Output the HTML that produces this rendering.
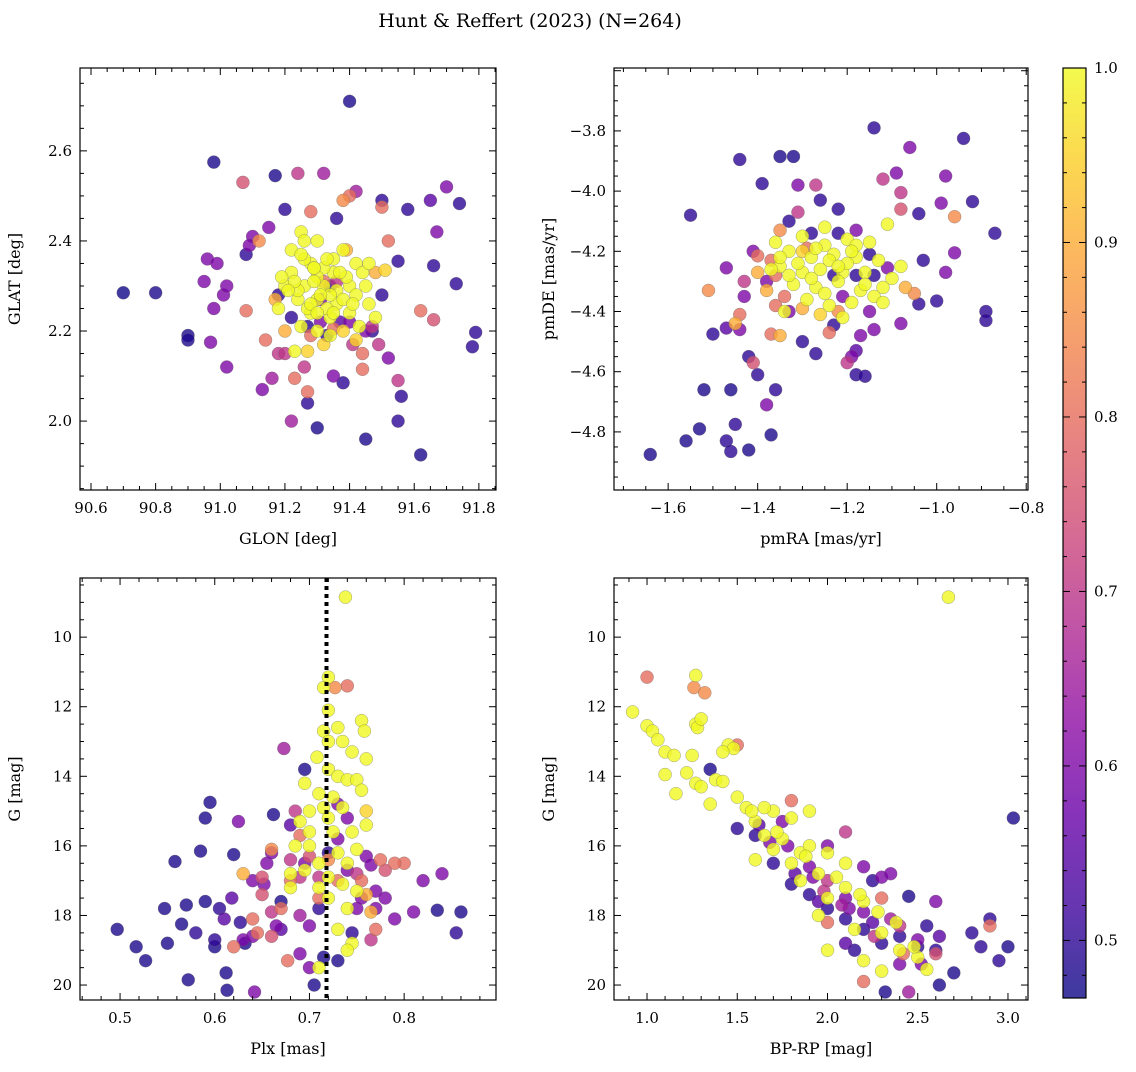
<!DOCTYPE html>
<html><head><meta charset="utf-8"><style>
body{margin:0;background:#fff;}
svg text{font-family:"DejaVu Serif","Liberation Serif",serif;fill:#000;}
</style></head><body>
<svg id="fig" width="1136" height="1067" xmlns="http://www.w3.org/2000/svg">
<defs><linearGradient id="cbg" x1="0" y1="1" x2="0" y2="0"></linearGradient></defs>
<text x="530" y="27" font-size="19" text-anchor="middle">Hunt &amp; Reffert (2023) (N=264)</text>
</svg>
<script>
// ---- data (x, y, membership probability) ----
const p1x=[90.70,90.80,90.90,90.90,90.98,91.17,91.40,91.20,91.30,91.45,91.62,91.55,91.56,91.78,91.79,91.74,91.70,91.65,91.67,91.66,91.73,91.58,91.50,91.55,91.50,91.47,91.38,91.35,91.42,91.40,91.32,91.24,91.07,91.10,91.09,91.08,90.96,90.99,91.01,91.02,90.95,90.98,90.97,91.02,91.13,91.16,91.18,91.20,91.22,91.27,91.27,91.26,91.23,91.08,91.14,91.17,91.12,91.28,91.38,91.50,91.52,91.51,91.62,91.66,91.44,91.44,91.55,91.52,91.49,91.47,91.25,91.30,91.38,91.42,91.35,91.28,91.22,91.20,91.26,91.32,91.40,91.45,91.30,91.36,91.24,91.28,91.34,91.40,91.46,91.48,91.30,91.25,91.38,91.42,91.32,91.27,91.23,91.35,91.44,91.22,91.26,91.32,91.36,91.30,91.38,91.33,91.42,91.18,91.20,91.46,91.48,91.36,91.31,91.33,91.37,91.40,91.24,91.29,91.34,91.39,91.27,91.31,91.35,91.29,91.33,91.26,91.41,91.37,91.23,91.43,91.21,91.28,91.34,91.30,91.25,91.39,91.19,91.36,91.32,91.27,91.15,91.34,91.41,91.28,91.22,91.31,91.18,91.35,91.45,91.29];
const p1y=[2.285,2.285,2.19,2.18,2.575,2.545,2.71,2.47,1.985,1.96,1.925,2.0,2.055,2.165,2.197,2.483,2.52,2.49,2.42,2.345,2.305,2.47,2.49,2.355,2.28,2.20,2.085,2.10,2.51,2.50,2.55,2.55,2.53,2.41,2.39,2.37,2.36,2.35,2.28,2.30,2.31,2.25,2.175,2.12,2.07,2.095,2.15,2.15,2.00,2.04,2.065,2.12,2.095,2.245,2.18,2.27,2.40,2.465,2.49,2.475,2.40,2.335,2.245,2.225,2.15,2.115,2.09,2.14,2.17,2.21,2.42,2.40,2.38,2.35,2.33,2.35,2.33,2.30,2.30,2.30,2.30,2.30,2.27,2.26,2.27,2.24,2.23,2.24,2.26,2.23,2.20,2.21,2.20,2.18,2.17,2.155,2.155,2.36,2.33,2.38,2.40,2.34,2.29,2.32,2.27,2.25,2.28,2.25,2.20,2.35,2.33,2.31,2.22,2.19,2.22,2.22,2.29,2.31,2.28,2.32,2.25,2.28,2.24,2.34,2.36,2.36,2.26,2.33,2.31,2.21,2.29,2.26,2.19,2.24,2.37,2.38,2.32,2.45,2.31,2.21,2.43,2.30,2.17,2.19,2.23,2.27,2.28,2.205,2.20,2.34,2.29];
const p1p=[.47,.48,.48,.48,.48,.48,.48,.5,.48,.48,.48,.5,.5,.5,.5,.5,.6,.55,.6,.5,.5,.5,.5,.5,.5,.5,.5,.6,.65,.8,.65,.7,.75,.6,.6,.5,.6,.6,.6,.6,.6,.6,.6,.6,.6,.65,.7,.7,.65,.5,.8,.7,.8,.8,.8,.9,.85,.8,.85,.8,.8,.95,.8,.75,.8,.8,.7,.6,.7,.7,1,1,1,1,1,1,1,1,1,1,1,1,1,1,1,1,1,1,1,1,1,1,.95,.95,.95,.95,1,1,1,1,1,1,1,1,1,1,1,1,.9,1,.9,.7,.6,.5,.55,.6,1,1,1,1,1,1,1,1,1,1,1,1,1,1,1,1,1,1,1,.9,1,.5,.8,.5,.6,.5,.7,.8,.5,.6,.5,.8,.6,1];

const p2x=[-1.64,-1.56,-1.53,-1.52,-1.47,-1.46,-1.45,-1.46,-1.42,-1.37,-1.36,-1.38,-1.40,-1.41,-1.42,-1.50,-1.47,-1.44,-1.44,-1.55,-1.44,-1.35,-1.32,-1.39,-1.31,-1.27,-1.26,-1.22,-1.14,-0.94,-1.06,-1.09,-0.98,-1.08,-0.99,-0.92,-0.87,-0.96,-1.04,-1.08,-0.96,-0.98,-1.03,-0.89,-0.89,-1.00,-1.04,-1.08,-1.14,-1.15,-1.17,-1.18,-1.19,-1.18,-1.16,-1.20,-1.23,-1.30,-1.27,-1.33,-1.36,-1.37,-1.35,-1.30,-1.34,-1.45,-1.43,-1.43,-1.47,-1.41,-1.40,-1.38,-1.36,-1.37,-1.35,-1.33,-1.31,-1.28,-1.22,-1.18,-1.51,-1.24,-1.22,-1.07,-1.05,-1.12,-1.11,-1.14,-1.18,-1.30,-1.25,-1.20,-1.15,-1.11,-1.33,-1.28,-1.23,-1.18,-1.13,-1.35,-1.30,-1.26,-1.21,-1.16,-1.32,-1.27,-1.22,-1.17,-1.12,-1.29,-1.24,-1.19,-1.14,-1.26,-1.21,-1.34,-1.37,-1.36,-1.25,-1.18,-1.08,-1.10,-1.12,-1.20,-1.28,-1.24,-1.30,-1.38,-1.40,-1.31,-1.27,-1.22,-1.16,-1.33,-1.19,-1.25,-1.15,-1.29,-1.21,-1.35,-1.23];
const p2y=[-4.875,-4.83,-4.79,-4.66,-4.83,-4.865,-4.775,-4.66,-4.86,-4.81,-4.66,-4.71,-4.61,-4.57,-4.55,-4.475,-4.455,-4.46,-4.41,-4.08,-3.895,-3.885,-3.885,-3.975,-3.98,-3.98,-4.03,-4.06,-3.79,-3.825,-3.855,-3.94,-3.95,-4.005,-4.04,-4.035,-4.14,-4.205,-4.075,-4.06,-4.085,-4.27,-4.23,-4.40,-4.43,-4.365,-4.375,-4.44,-4.46,-4.40,-4.48,-4.53,-4.55,-4.61,-4.615,-4.57,-4.445,-4.50,-4.54,-4.40,-4.38,-4.475,-4.48,-4.39,-4.35,-4.44,-4.30,-4.35,-4.255,-4.20,-4.215,-4.30,-4.28,-4.23,-4.13,-4.10,-4.07,-4.14,-4.14,-4.13,-4.33,-4.47,-4.40,-4.32,-4.34,-3.96,-4.255,-4.28,-4.28,-4.15,-4.18,-4.16,-4.17,-4.11,-4.20,-4.22,-4.21,-4.22,-4.23,-4.25,-4.27,-4.26,-4.27,-4.27,-4.31,-4.32,-4.30,-4.33,-4.32,-4.36,-4.38,-4.37,-4.35,-4.41,-4.42,-4.40,-4.26,-4.17,-4.12,-4.18,-4.25,-4.29,-4.37,-4.24,-4.29,-4.23,-4.20,-4.33,-4.27,-4.24,-4.19,-4.25,-4.31,-4.28,-4.20,-4.34,-4.21,-4.19,-4.35,-4.22,-4.28];
const p2p=[.48,.48,.48,.48,.5,.5,.5,.48,.48,.48,.5,.6,.5,.75,.5,.5,.55,.6,.8,.5,.5,.48,.48,.5,.6,.7,.5,.5,.5,.5,.6,.6,.6,.7,.6,.5,.5,.6,.5,.75,.85,.6,.5,.5,.5,.5,.5,.6,.6,.6,.6,.55,.6,.5,.5,.7,.5,.5,.5,.6,.8,.8,.9,.9,.8,.9,.7,.6,.6,.6,.8,.6,.8,.8,.85,.5,.7,.5,.5,.6,.85,.8,.85,.9,.85,.7,.6,.5,.5,1,1,1,1,1,1,1,1,1,1,1,1,1,1,1,1,1,1,1,1,1,1,1,1,.95,1,1,1,1,1,1,1,1,1,1,1,1,.95,.9,.9,1,1,1,1,1,1,1,.5,.8,.6,1,.5];

const p3x=[0.497,0.517,0.527,0.547,0.55,0.558,0.565,0.57,0.572,0.58,0.585,0.59,0.59,0.595,0.60,0.60,0.605,0.61,0.612,0.613,0.618,0.62,0.625,0.627,0.63,0.632,0.64,0.642,0.65,0.652,0.655,0.66,0.662,0.665,0.67,0.67,0.673,0.677,0.68,0.685,0.69,0.69,0.695,0.70,0.70,0.705,0.71,0.715,0.73,0.745,0.75,0.755,0.76,0.765,0.77,0.78,0.79,0.80,0.81,0.82,0.835,0.84,0.86,0.855,0.77,0.64,0.645,0.66,0.765,0.755,0.775,0.79,0.74,0.73,0.72,0.695,0.738,0.72,0.715,0.727,0.74,0.72,0.73,0.755,0.758,0.715,0.72,0.735,0.708,0.745,0.76,0.72,0.73,0.74,0.75,0.695,0.71,0.725,0.755,0.715,0.735,0.76,0.70,0.72,0.745,0.70,0.725,0.685,0.70,0.73,0.75,0.71,0.74,0.68,0.695,0.72,0.735,0.71,0.68,0.75,0.72,0.74,0.73,0.745,0.71,0.74,0.76,0.765,0.69,0.66,0.68,0.70,0.74,0.76,0.68,0.65,0.63,0.67,0.72,0.75,0.73,0.69,0.71,0.66,0.64,0.62,0.78,0.77,0.71,0.73,0.69];
const p3y=[18.4,18.9,19.3,17.8,18.8,16.45,18.25,17.7,19.85,18.5,16.15,17.6,15.2,14.75,18.9,18.7,17.8,18.1,19.65,20.15,17.5,16.25,15.3,18.2,18.7,18.8,17.0,20.2,17.4,17.1,16.5,16.2,15.1,18.3,17.8,17.6,13.2,19.3,15.4,15.0,16.9,19.1,13.8,18.3,19.5,20.0,17.8,19.2,19.3,18.5,17.8,17.5,16.3,16.55,17.3,17.5,18.1,16.5,17.9,17.0,17.85,16.8,17.9,18.5,18.4,18.1,18.5,18.6,18.7,17.0,16.4,16.5,15.2,14.8,16.2,16.5,8.85,11.15,11.45,11.45,11.4,12.1,12.6,12.4,12.7,12.7,13.0,13.0,13.45,13.3,13.5,13.8,14.0,14.1,14.1,14.2,14.5,14.6,14.4,14.9,14.9,15.4,15.0,15.2,15.6,15.6,15.6,16.0,16.0,16.2,16.1,16.5,16.5,16.8,16.7,16.9,17.1,17.2,17.2,17.3,17.5,17.8,18.4,18.8,19.5,19.0,15.0,17.9,15.7,16.1,16.4,16.3,16.7,17.4,17.0,16.9,16.8,18.4,16.4,16.8,17.0,18.0,17.5,17.9,18.6,18.9,16.7,17.8,16.9,15.8,15.3];
const p3p=[.48,.48,.48,.48,.48,.48,.48,.48,.48,.5,.48,.48,.48,.48,.48,.5,.5,.55,.48,.48,.55,.48,.6,.5,.6,.48,.6,.6,.75,.6,.6,.6,.48,.6,.8,.48,.65,.8,.55,.7,.7,.6,.48,.6,.6,.48,.5,.48,.48,.5,.6,.6,.6,.6,.6,.6,.6,.8,.6,.6,.48,.6,.48,.5,.8,.8,.8,.75,.7,.8,.8,.8,.6,.6,.5,.6,1,1,1,.85,.8,1,1,1,1,1,1,1,1,1,1,1,1,1,1,1,1,1,1,1,1,1,1,1,1,1,1,1,1,1,1,1,1,1,1,1,1,1,1,1,1,1,1,1,1,1,.95,.9,.8,.85,.7,.75,.6,.9,.8,.75,.9,.55,.85,.7,.8,.65,.8,.7,.6,.8,.75,.6,.7,.6];

const p4x=[0.92,1.0,1.03,1.06,1.1,1.15,1.1,1.16,1.27,1.26,1.32,1.27,1.28,1.3,1.25,1.22,1.27,1.3,1.38,1.42,1.45,1.48,1.42,1.5,1.35,1.55,1.6,1.65,1.7,1.8,1.85,1.7,1.6,1.75,1.9,1.95,2.0,2.1,2.2,2.3,2.4,2.5,2.67,1.9,2.0,2.1,1.85,2.15,2.3,2.55,2.0,2.2,1.95,1.8,1.65,1.0,1.5,1.8,2.9,2.6,2.2,2.0,2.3,2.1,2.0,2.4,2.45,2.2,2.3,1.35,1.5,1.6,1.7,1.8,1.9,2.0,2.1,2.2,2.3,2.4,2.5,2.55,2.45,2.6,2.7,2.62,2.32,2.85,2.95,3.0,3.03,2.9,2.8,2.15,2.25,2.35,2.2,2.1,1.9,2.0,1.75,2.4,2.5,2.6,1.95,2.1,2.25,1.58,1.72,1.88,2.05,2.18,2.28,2.38,2.48,1.68,1.82,1.98,2.12,2.35,2.42,2.52,2.62,1.62,1.78,1.92,2.08,2.26];
const p4y=[12.15,12.55,12.7,12.95,13.3,13.4,13.95,14.5,11.1,11.45,11.6,12.5,12.6,12.35,13.4,13.9,14.2,14.3,14.1,14.15,13.1,13.2,13.3,14.6,14.8,14.9,15.3,15.7,16.1,16.5,16.2,15.0,16.4,15.8,16.0,16.8,17.5,17.2,17.6,18.5,19.0,19.2,8.85,15.0,16.2,16.5,17.0,18.4,19.6,19.55,19.0,19.3,18.0,15.2,14.9,11.15,13.1,14.7,18.3,19.1,19.9,18.2,17.5,15.6,17.0,18.3,20.2,16.6,16.9,13.8,15.5,15.7,16.5,17.1,17.4,17.8,18.1,18.4,18.8,18.6,18.9,18.3,17.45,19.0,19.65,20.0,20.2,18.9,19.3,18.9,15.2,18.1,18.5,19.0,17.0,16.8,17.9,17.5,16.6,16.0,15.3,19.4,18.7,17.6,17.6,18.8,18.2,15.0,15.6,16.3,16.9,17.4,17.9,18.2,18.9,15.9,16.8,17.3,17.8,18.1,19.1,19.4,18.6,15.4,16.0,16.9,17.7,18.6];
const p4p=[1,1,1,1,1,1,1,1,1,.85,.85,1,1,1,1,1,1,1,1,1,1,1,1,1,1,1,1,1,1,1,1,1,1,1,1,1,1,1,1,1,1,1,1,1,1,1,1,1,1,1,1,1,1,1,1,.8,.8,.8,.8,.75,.8,.8,.8,.7,.7,.7,.65,.6,.6,.48,.5,.5,.5,.5,.5,.5,.5,.5,.5,.5,.5,.5,.48,.5,.48,.48,.48,.5,.5,.48,.48,.5,.5,.5,.5,.6,.6,.6,.6,.6,.6,.6,.6,.6,.55,.55,.55,1,1,1,1,1,1,1,1,.6,.55,.7,.6,.65,.8,.6,.55,.55,.6,.6,.65,.7];

const cbTicks=[0.5,0.6,0.7,0.8,0.9,1.0];
const VMIN=0.467, VMAX=1.0;

const NS='http://www.w3.org/2000/svg';
const svg=document.getElementById('fig');
function mk(tag,attrs,parent){const e=document.createElementNS(NS,tag);for(const k in attrs)e.setAttribute(k,attrs[k]);(parent||svg).appendChild(e);return e;}
const stops=[[0,'#0d0887'],[.1,'#41049d'],[.2,'#6a00a8'],[.3,'#8f0da4'],[.4,'#b12a90'],[.5,'#cc4778'],[.6,'#e16462'],[.7,'#f2844b'],[.8,'#fca636'],[.9,'#fcce25'],[1,'#f0f921']];
function hex(h){return [1,3,5].map(i=>parseInt(h.substr(i,2),16));}
function plasma(t){t=Math.max(0,Math.min(1,t));for(let i=1;i<stops.length;i++){if(t<=stops[i][0]){const a=stops[i-1],b=stops[i];const f=(t-a[0])/(b[0]-a[0]);const ca=hex(a[1]),cb=hex(b[1]);return 'rgb('+ca.map((v,j)=>Math.round(v+(cb[j]-v)*f)).join(',')+')';}}return stops[stops.length-1][1];}

function panel(o){
  const g=mk('g',{});
  
  
  const sx=v=>o.L+(v-o.x0)/(o.x1-o.x0)*(o.R-o.L);
  const sy=v=>o.B-(v-o.y0)/(o.y1-o.y0)*(o.B-o.T);
  const idx=o.xs.map((_,i)=>i).sort((a,b)=>o.ps[a]-o.ps[b]);
  const pts=mk('g',{},g);
  
  
  idx.forEach(i=>{
    const c=mk('circle',{cx:sx(o.xs[i]),cy:sy(o.ys[i]),r:6.5,fill:plasma((o.ps[i]-VMIN)/(VMAX-VMIN)),'fill-opacity':0.8,stroke:'#666','stroke-width':0.5,'stroke-opacity':0.6},pts);
    
    
  });
  if(o.vline!==undefined){
    const l=mk('line',{x1:sx(o.vline),x2:sx(o.vline),y1:o.T,y2:o.B,stroke:'#000','stroke-width':4,'stroke-dasharray':'4,4'},g);
    
    
  }
  const fr=mk('rect',{x:o.L,y:o.T,width:o.R-o.L,height:o.B-o.T,fill:'none',stroke:'#000','stroke-width':1.2},g);
  
  
  const tk=mk('g',{stroke:'#000','stroke-width':1},g);
  
  
  const eps=1e-9;
  const xlo=Math.min(o.x0,o.x1),xhi=Math.max(o.x0,o.x1),ylo=Math.min(o.y0,o.y1),yhi=Math.max(o.y0,o.y1);
  for(let k=Math.ceil(xlo/o.xm-eps);k*o.xm<=xhi+eps;k++){const v=k*o.xm;const x=sx(v);const maj=Math.abs(v/o.xM-Math.round(v/o.xM))<1e-6;const len=maj?7:4;mk('line',{x1:x,x2:x,y1:o.B,y2:o.B-len},tk);mk('line',{x1:x,x2:x,y1:o.T,y2:o.T+len},tk);}
  for(let k=Math.ceil(ylo/o.ym-eps);k*o.ym<=yhi+eps;k++){const v=k*o.ym;const y=sy(v);const maj=Math.abs(v/o.yM-Math.round(v/o.yM))<1e-6;const len=maj?7:4;mk('line',{x1:o.L,x2:o.L+len,y1:y,y2:y},tk);mk('line',{x1:o.R,x2:o.R-len,y1:y,y2:y},tk);}
  o.xt.forEach(v=>{const t=mk('text',{x:sx(v),y:o.B+23,'font-size':15,'text-anchor':'middle'},g);t.textContent=v.toFixed(o.xd).replace('-','\u2212');});
  o.yt.forEach(v=>{const t=mk('text',{x:o.L-8,y:sy(v)+5,'font-size':15,'text-anchor':'end'},g);t.textContent=v.toFixed(o.yd).replace('-','\u2212');});
  const xl=mk('text',{x:(o.L+o.R)/2,y:o.B+54,'font-size':16,'text-anchor':'middle'},g);xl.textContent=o.xlab;
  
  
  const yx=o.L-60,yy=(o.T+o.B)/2;
  const yl=mk('text',{x:yx,y:yy,'font-size':16,'text-anchor':'middle',transform:'rotate(-90 '+yx+' '+yy+')'},g);yl.textContent=o.ylab;
  
  
}
panel({name:'panel-glon-glat',L:80,R:496,T:68,B:490,x0:90.566,x1:91.853,y0:1.847,y1:2.784,xs:p1x,ys:p1y,ps:p1p,xm:0.05,xM:0.2,ym:0.05,yM:0.2,xt:[90.6,90.8,91.0,91.2,91.4,91.6,91.8],yt:[2.0,2.2,2.4,2.6],xd:1,yd:1,xlab:'GLON [deg]',ylab:'GLAT [deg]'});
panel({name:'panel-proper-motion',L:614,R:1028,T:68,B:490,x0:-1.721,x1:-0.796,y0:-4.993,y1:-3.591,xs:p2x,ys:p2y,ps:p2p,xm:0.05,xM:0.2,ym:0.05,yM:0.2,xt:[-1.6,-1.4,-1.2,-1.0,-0.8],yt:[-4.8,-4.6,-4.4,-4.2,-4.0,-3.8],xd:1,yd:1,xlab:'pmRA [mas/yr]',ylab:'pmDE [mas/yr]'});
panel({name:'panel-parallax-mag',L:80,R:496,T:578,B:1000,x0:0.4577,x1:0.897,y0:20.43,y1:8.30,xs:p3x,ys:p3y,ps:p3p,xm:0.02,xM:0.1,ym:0.5,yM:2,xt:[0.5,0.6,0.7,0.8],yt:[10,12,14,16,18,20],xd:1,yd:0,xlab:'Plx [mas]',ylab:'G [mag]',vline:0.718});
panel({name:'panel-cmd',L:614,R:1028,T:578,B:1000,x0:0.817,x1:3.111,y0:20.43,y1:8.30,xs:p4x,ys:p4y,ps:p4p,xm:0.1,xM:0.5,ym:0.5,yM:2,xt:[1.0,1.5,2.0,2.5,3.0],yt:[10,12,14,16,18,20],xd:1,yd:0,xlab:'BP-RP [mag]',ylab:'G [mag]'});

// colorbar
const grad=document.getElementById('cbg');
for(let i=0;i<=10;i++){mk('stop',{offset:i/10,'stop-color':plasma(i/10)},grad);}
const cb=mk('g',{});


const CT=68,CB=998,CL=1063,CR=1086;
mk('rect',{x:CL,y:CT,width:CR-CL,height:CB-CT,fill:'url(#cbg)','fill-opacity':0.8},cb);
mk('rect',{x:CL,y:CT,width:CR-CL,height:CB-CT,fill:'none',stroke:'#000','stroke-width':1.2},cb);
const cy=v=>CB-(v-VMIN)/(VMAX-VMIN)*(CB-CT);
for(let k=24;k<=50;k++){const v=k*0.02;const y=cy(v);const maj=(k%5===0);mk('line',{x1:CR,x2:CR-(maj?7:4),y1:y,y2:y,stroke:'#000'},cb);mk('line',{x1:CL,x2:CL+(maj?7:4),y1:y,y2:y,stroke:'#000'},cb);}
cbTicks.forEach(v=>{const t=mk('text',{x:CR+8,y:cy(v)+5,'font-size':15},cb);t.textContent=v.toFixed(1);});
</script>
</body></html>
